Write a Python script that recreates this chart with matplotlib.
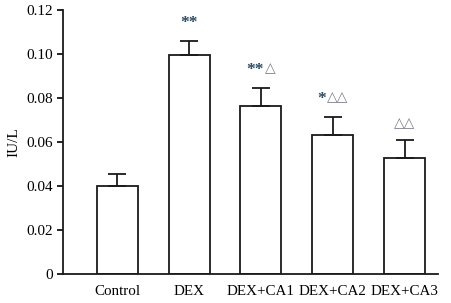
import matplotlib
matplotlib.use("Agg")
import matplotlib.pyplot as plt
from matplotlib.offsetbox import TextArea, HPacker, VPacker, DrawingArea, AnnotationBbox

groups = ['Control', 'DEX', 'DEX+CA1', 'DEX+CA2', 'DEX+CA3']
values = [0.040, 0.0995, 0.0763, 0.0632, 0.0525]
errors = [0.0055, 0.0065, 0.0082, 0.0082, 0.0083]
stars = ['', '**', '**', '*', '']
triangles = ['', '', '\u25b3', '\u25b3\u25b3', '\u25b3\u25b3']

plt.rcParams['font.family'] = ['Liberation Serif', 'DejaVu Sans']

fig = plt.figure(figsize=(4.51, 3.03), dpi=100)
ax = fig.add_axes([0.14, 0.096, 0.831, 0.871])

x = range(len(groups))
ax.bar(x, values, width=0.57, color='white', edgecolor='#1a1a1a', linewidth=1.3)
ax.errorbar(x, values, yerr=[[0] * len(errors), errors], fmt='none',
            ecolor='#1a1a1a', elinewidth=1.3, capsize=6.5, capthick=1.3)

# significance marks: stars dark, triangles grey
for i in x:
    parts = []
    if stars[i]:
        st = TextArea(stars[i], textprops=dict(color='#2a4a60', fontsize=12.5,
                                               fontweight='bold'))
        # push the stars down a little so they sit level with the triangles
        parts.append(VPacker(children=[DrawingArea(1, 1), st], align='center', pad=0, sep=0))
    if triangles[i]:
        parts.append(TextArea(triangles[i], textprops=dict(color='#7a7a8c', fontsize=10,
                                                           family=['DejaVu Sans'])))
    if not parts:
        continue
    box = HPacker(children=parts, align='top', pad=0, sep=1)
    ab = AnnotationBbox(box, (i, values[i] + errors[i]), xybox=(0, 7),
                        xycoords='data', boxcoords='offset points',
                        box_alignment=(0.5, 0), frameon=False)
    ax.add_artist(ab)

ax.set_xlim(-0.75, 4.46)
ax.set_ylim(0, 0.12)
ax.set_yticks([0, 0.02, 0.04, 0.06, 0.08, 0.10, 0.12])
ax.set_yticklabels(['0', '0.02', '0.04', '0.06', '0.08', '0.10', '0.12'])
ax.set_xticks(list(x))
ax.set_xticklabels(groups)
ax.tick_params(axis='x', length=0, pad=8, labelsize=10.8)
ax.tick_params(axis='y', direction='out', length=4, width=1.2, labelsize=11)
ax.set_ylabel('IU/L', fontsize=11, labelpad=4)

for s in ['top', 'right']:
    ax.spines[s].set_visible(False)
for s in ['left', 'bottom']:
    ax.spines[s].set_linewidth(1.3)
    ax.spines[s].set_color('#1a1a1a')

fig.savefig('out.png', dpi=100)
